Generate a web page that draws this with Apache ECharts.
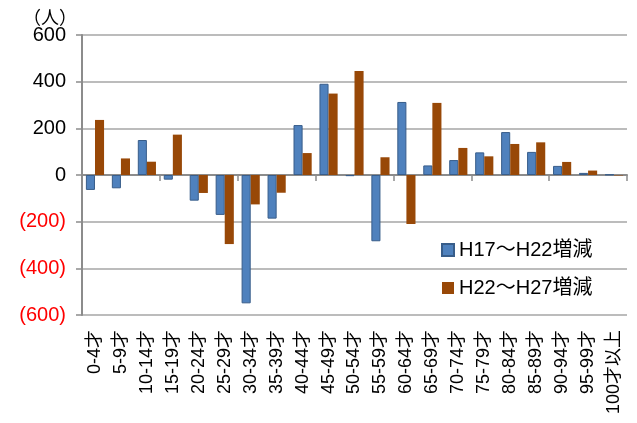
<!DOCTYPE html>
<html><head><meta charset="utf-8">
<script src="https://cdn.jsdelivr.net/npm/echarts@6/dist/echarts.min.js"></script>
<style>html,body{margin:0;padding:0;background:#fff}#c{width:637px;height:423px}</style>
</head><body><div id="c"></div>
<script>
var categories = ["0-4才","5-9才","10-14才","15-19才","20-24才","25-29才","30-34才","35-39才","40-44才","45-49才","50-54才","55-59才","60-64才","65-69才","70-74才","75-79才","80-84才","85-89才","90-94才","95-99才","100才以上"];
var h17_22 = [-64,-57,150,-20,-110,-171,-550,-187,214,391,-5,-284,313,41,64,97,184,99,39,9,2];
var h22_27 = [236,71,57,173,-77,-296,-126,-76,94,349,446,76,-210,309,116,80,133,140,56,19,-2];
var seriesNames = ["H17～H22増減","H22～H27増減"];
var yTicks = {min:-600, max:600, interval:200};

var font = "'Liberation Sans', Arial, 'Noto Sans CJK JP', sans-serif";
var chart = echarts.init(document.getElementById('c'), null, {renderer:'canvas'});
chart.setOption({
  animation:false,
  textStyle:{fontFamily:font},
  title:{text:"（人）", left:18, top:5, textStyle:{fontSize:18, fontWeight:'normal', color:'#000', fontFamily:font}},
  grid:{left:82, right:10, top:35, bottom:108},
  legend:{
    orient:'vertical', left:436, top:235, itemWidth:12, itemHeight:12, itemGap:18,
    icon:'rect',
    textStyle:{fontSize:20, color:'#000', fontFamily:font},
    data:seriesNames
  },
  xAxis:[{
    type:'category', data:categories,
    axisLine:{onZero:true, lineStyle:{color:'#8c8c8c', width:2}},
    axisTick:{show:true, length:6, lineStyle:{color:'#8c8c8c', width:1.5}},
    axisLabel:{show:false}
  },{
    type:'category', data:categories, position:'bottom',
    axisLine:{show:false, onZero:false}, axisTick:{show:false},
    axisLabel:{rotate:90, fontSize:18, color:'#000', margin:15, interval:0, fontFamily:font}
  }],
  yAxis:{
    type:'value', min:yTicks.min, max:yTicks.max, interval:yTicks.interval,
    axisLine:{show:true, lineStyle:{color:'#8c8c8c', width:2}},
    axisTick:{show:true, length:6, lineStyle:{color:'#8c8c8c', width:1.5}},
    splitLine:{lineStyle:{color:'#a6a6a6', width:1.5}},
    axisLabel:{
      fontSize:20, margin:16, fontFamily:font,
      formatter:function(v){return v<0 ? '('+(-v)+')' : String(v);},
      color:function(v){return Number(v)<0 ? '#ff0000' : '#000';}
    }
  },
  series:[{
    name:seriesNames[0], type:'bar', data:h17_22, xAxisIndex:0,
    barGap:'0%', barCategoryGap:'30%',
    itemStyle:{color:'#4f81bd', borderColor:'#385d8a', borderWidth:1}
  },{
    name:seriesNames[1], type:'bar', data:h22_27, xAxisIndex:0,
    barGap:'0%', barCategoryGap:'30%',
    itemStyle:{color:'#984807', borderWidth:0}
  }]
});
</script></body></html>
